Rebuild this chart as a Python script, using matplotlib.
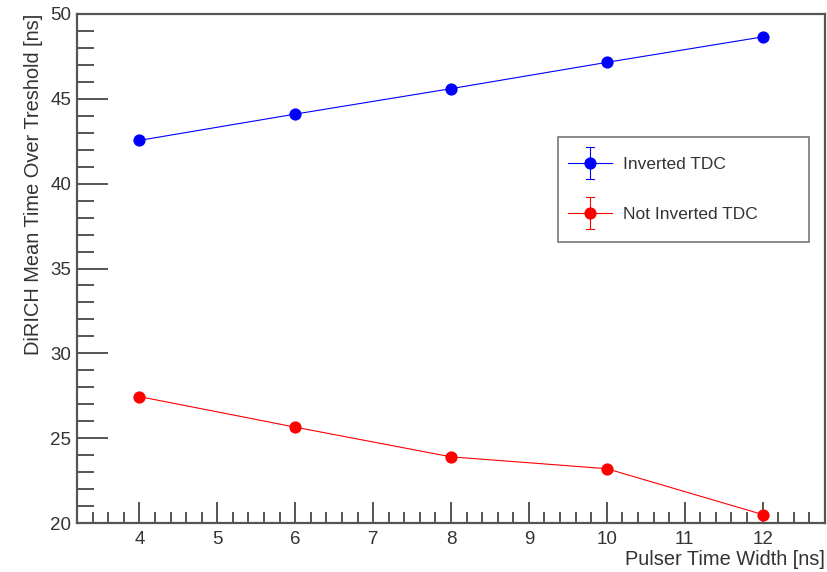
import numpy as np
import matplotlib.pyplot as plt
import matplotlib.ticker as ticker
from matplotlib.lines import Line2D
from matplotlib.legend_handler import HandlerBase

plt.rcParams['font.family'] = ['Liberation Sans', 'DejaVu Sans']

width = [4, 6, 8, 10, 12]
tot_inverted = [42.55, 44.1, 45.6, 47.15, 48.65]
tot_not_inverted = [27.45, 25.65, 23.9, 23.2, 20.5]

fig = plt.figure(figsize=(8.27, 5.72), dpi=100)
ax = fig.add_axes([77 / 827, 1 - 523 / 572, (825 - 77) / 827, (523 - 14) / 572])

ax.plot(width, tot_inverted, color='blue', lw=0.8, marker='o', ms=8.8,
        markeredgewidth=0, zorder=3)
ax.plot(width, tot_not_inverted, color='red', lw=0.8, marker='o', ms=8.8,
        markeredgewidth=0, zorder=3)

ax.set_xlim(3.2, 12.8)
ax.set_ylim(20, 50)
ax.xaxis.set_major_locator(ticker.MultipleLocator(1))
ax.xaxis.set_minor_locator(ticker.MultipleLocator(0.2))
ax.yaxis.set_major_locator(ticker.MultipleLocator(5))
ax.yaxis.set_minor_locator(ticker.MultipleLocator(1))

frame_col = '#555555'
for s in ax.spines.values():
    s.set_color(frame_col)
    s.set_linewidth(1.6)
ax.tick_params(which='both', direction='in', color=frame_col, width=1.4,
               labelsize=13.5, labelcolor='#333333', top=False, right=False)
ax.tick_params(axis='x', which='major', length=15, pad=6)
ax.tick_params(axis='x', which='minor', length=8)
ax.tick_params(axis='y', which='major', length=22, pad=4)
ax.tick_params(axis='y', which='minor', length=12)

ax.set_xlabel('Pulser Time Width [ns]', fontsize=14.4, color='#333333',
              ha='right', x=1.0, labelpad=1)
ax.set_ylabel('DiRICH Mean Time Over Treshold [ns]', fontsize=14.4,
              color='#333333', ha='right', y=1.0, labelpad=5)


# legend entries drawn as marker with error cross, like a graph with errors
class ErrCrossHandler(HandlerBase):
    def create_artists(self, legend, orig, xd, yd, w, h, fontsize, trans):
        c = orig.get_color()
        x_left = xd - 7.2
        cx, cy = x_left + w / 2, yd + h / 2
        eh = 11.5
        hl = Line2D([x_left, x_left + w], [cy, cy], color=c, lw=0.8, transform=trans)
        vl = Line2D([cx, cx], [cy - eh, cy + eh], color=c, lw=0.8, transform=trans)
        cap1 = Line2D([cx - 3, cx + 3], [cy + eh, cy + eh], color=c, lw=0.8, transform=trans)
        cap2 = Line2D([cx - 3, cx + 3], [cy - eh, cy - eh], color=c, lw=0.8, transform=trans)
        mk = Line2D([cx], [cy], marker='o', ms=8.8, color=c, markeredgewidth=0,
                    transform=trans)
        return [hl, vl, cap1, cap2, mk]


x0 = (558 - 77) / 748
x1 = (809 - 77) / 748
y1 = 1 - (137 - 14) / 509
y0 = 1 - (238 - 14) / 509
handles = [Line2D([], [], color='blue'), Line2D([], [], color='red')]
leg = ax.legend(handles, ['Inverted TDC', 'Not Inverted TDC'],
                handler_map={Line2D: ErrCrossHandler()},
                loc='upper left', bbox_to_anchor=(x0, y0, x1 - x0, y1 - y0),
                mode='expand', fontsize=12.5, frameon=True, fancybox=False,
                handlelength=2.53, handletextpad=0.08, labelspacing=2.0,
                borderpad=1.15, borderaxespad=0)
leg.get_frame().set_edgecolor(frame_col)
leg.get_frame().set_linewidth(1.2)
for t in leg.get_texts():
    t.set_color('#333333')

fig.savefig('out.png', dpi=100)
